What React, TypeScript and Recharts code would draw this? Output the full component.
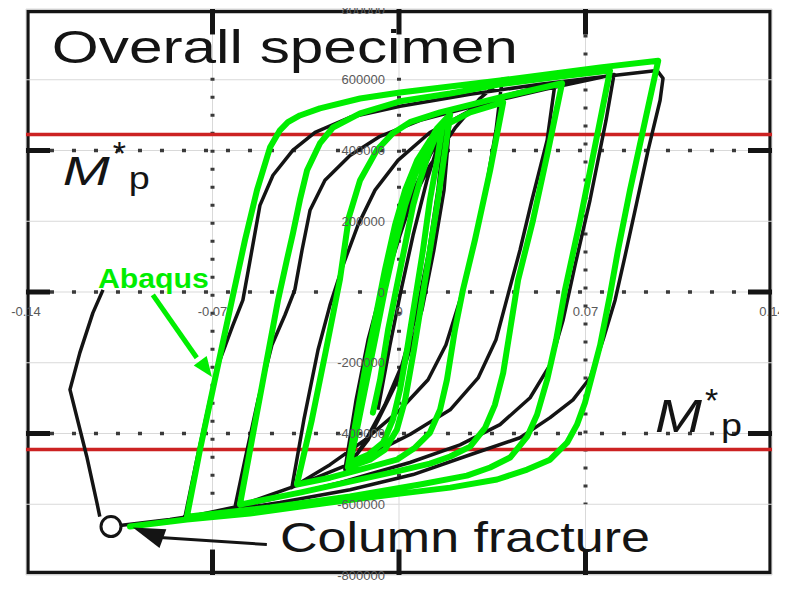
import React from 'react'
import { LineChart, Line, XAxis, YAxis, ReferenceLine, ReferenceDot, ReferenceArea } from 'recharts'

// axis ticks (Excel overlay)
const xTicks = [-0.14, -0.07, 0, 0.07, 0.14]
const xTickLabels = ['-0.14', '-0.07', '0', '0.07', '0.14']
const yTicks = [-800000, -600000, -400000, -200000, 0, 200000, 400000, 600000, 800000]

// scanned figure: M*p levels and its own dotted grid
const mpLevels = [445000, -445000]
const scanGridX = [-0.07, 0, 0.07]
const scanGridY = [-400000, 0, 400000]

// Abaqus result (green), one continuous path: small cycles first, then growing loops
const abaqusPath = [
  [-0.0098, -341000], [-0.0071, -248000], [-0.0041, -107000], [-0.0011, 6000], [0.0023, 133000], [0.0053, 245000], [0.0079, 316000], [0.0109, 386000], [0.0143, 449000], [0.0165, 480000],
  [0.0143, 372000], [0.0116, 260000], [0.009, 118000], [0.006, -23000], [0.003, -164000], [0.0004, -276000], [-0.0023, -361000], [-0.006, -426000], [-0.0116, -460000], [-0.0184, -482000],
  [-0.0158, -389000], [-0.0128, -276000], [-0.009, -135000], [-0.0053, 6000], [-0.0015, 133000], [0.0023, 245000], [0.006, 330000], [0.0098, 401000], [0.0143, 463000], [0.0192, 502000],
  [0.0173, 401000], [0.0146, 260000], [0.0116, 118000], [0.0086, -23000], [0.0056, -164000], [0.0023, -305000], [-0.0008, -389000], [-0.0053, -446000], [-0.0109, -474000], [-0.0192, -496000],
  [-0.0161, -361000], [-0.0128, -220000], [-0.009, -79000], [-0.0053, 62000], [-0.0015, 189000], [0.0023, 288000], [0.0068, 372000], [0.0116, 429000], [0.0173, 471000], [0.0267, 508000], [0.0391, 536000],
  [0.0342, 344000], [0.0285, 147000], [0.024, 6000], [0.021, -107000], [0.018, -248000], [0.0154, -333000], [0.0116, -398000], [0.006, -440000], [-0.0008, -474000], [-0.0146, -502000], [-0.0259, -525000], [-0.0383, -544000],
  [-0.0327, -361000], [-0.0274, -164000], [-0.0222, 34000], [-0.0188, 212000], [-0.0146, 316000], [-0.0083, 401000], [-0.0023, 449000], [0.0041, 480000], [0.0154, 508000], [0.0379, 550000], [0.0612, 590000],
  [0.056, 401000], [0.0503, 203000], [0.0447, 34000], [0.0417, -107000], [0.0391, -229000], [0.036, -319000], [0.0323, -384000], [0.0267, -437000], [0.0192, -465000], [0.0116, -485000], [0.0004, -505000], [-0.0184, -536000], [-0.0372, -567000], [-0.0597, -601000],
  [-0.0552, -418000], [-0.0503, -220000], [-0.0454, -23000], [-0.0421, 90000], [-0.0398, 166000], [-0.0372, 260000], [-0.0345, 344000], [-0.0297, 420000], [-0.0248, 465000], [-0.0146, 505000], [0.0004, 539000], [0.0192, 561000], [0.0379, 587000], [0.0605, 609000], [0.0792, 626000],
  [0.074, 429000], [0.068, 203000], [0.0623, 6000], [0.059, -135000], [0.0556, -248000], [0.0518, -347000], [0.0481, -409000], [0.0417, -468000], [0.0342, -496000], [0.0255, -519000], [0.0079, -544000], [-0.0184, -578000], [-0.0484, -609000], [-0.0796, -635000],
  [-0.0747, -446000], [-0.0691, -248000], [-0.0627, -23000], [-0.0578, 147000], [-0.0533, 288000], [-0.0484, 409000], [-0.0447, 457000], [-0.0417, 480000], [-0.0372, 499000], [-0.0297, 519000], [-0.0146, 547000], [0.0004, 564000], [0.0379, 598000], [0.0755, 635000], [0.0973, 654000],
  [0.0924, 485000], [0.0867, 288000], [0.0822, 118000], [0.0792, -8000], [0.0755, -150000], [0.0698, -313000], [0.0668, -375000], [0.0631, -426000], [0.0567, -474000], [0.0481, -502000], [0.0368, -530000], [0.0192, -553000], [0.0004, -570000], [-0.0259, -595000], [-0.056, -626000], [-0.0796, -643000], [-0.101, -663000],
]

// test curve from the scanned figure (black)
const testPath = [
  [-0.0079, -333000], [-0.0034, -150000], [0.0008, 6000], [0.0053, 161000], [0.0105, 316000], [0.0173, 480000],
  [0.0146, 288000], [0.0109, 104000], [0.0064, -65000], [0.0011, -206000], [-0.0053, -319000], [-0.0124, -418000], [-0.0176, -480000],
  [-0.0139, -305000], [-0.0098, -135000], [-0.0049, 34000], [0.0004, 161000], [0.0056, 288000], [0.0116, 386000], [0.0192, 491000],
  [0.0169, 288000], [0.0131, 118000], [0.0086, -51000], [0.0023, -206000], [-0.0041, -305000], [-0.0116, -418000], [-0.0203, -502000],
  [-0.0161, -305000], [-0.0116, -135000], [-0.0071, -8000], [-0.0015, 118000], [0.0041, 245000], [0.0116, 358000], [0.021, 463000], [0.0304, 547000], [0.0387, 601000],
  [0.0364, 457000], [0.0319, 260000], [0.0274, 118000], [0.0229, -23000], [0.0176, -150000], [0.0109, -248000], [0.0004, -333000], [-0.0128, -418000], [-0.0259, -488000], [-0.0402, -553000],
  [-0.0357, -361000], [-0.0304, -164000], [-0.0259, -37000], [-0.021, 76000], [-0.0154, 189000], [-0.009, 288000], [-0.0004, 372000], [0.0116, 451000], [0.0267, 513000], [0.0417, 559000], [0.0586, 592000],
  [0.0556, 429000], [0.0499, 260000], [0.0454, 118000], [0.0409, -8000], [0.0364, -135000], [0.0297, -243000], [0.0192, -333000], [0.0041, -403000], [-0.0146, -474000], [-0.0372, -544000], [-0.0616, -609000],
  [-0.0578, -474000], [-0.0529, -305000], [-0.0477, -150000], [-0.0428, -65000], [-0.0391, 6000], [-0.0364, 118000], [-0.0334, 231000], [-0.0278, 316000], [-0.0184, 386000], [-0.0071, 440000], [0.0079, 485000], [0.0304, 530000], [0.0548, 573000], [0.0807, 615000],
  [0.0777, 485000], [0.0717, 260000], [0.0661, 76000], [0.0616, -79000], [0.0567, -206000], [0.0492, -299000], [0.0379, -375000], [0.0229, -432000], [0.0041, -482000], [-0.0222, -539000], [-0.0484, -587000], [-0.0804, -638000],
  [-0.0759, -474000], [-0.071, -305000], [-0.0672, -192000], [-0.0623, -93000], [-0.0586, -23000], [-0.056, 85000], [-0.0522, 245000], [-0.0473, 330000], [-0.0398, 401000], [-0.0315, 451000], [-0.0184, 494000], [0.0004, 525000], [0.0267, 559000], [0.0529, 587000], [0.0804, 612000], [0.0969, 626000],
  [0.0991, 604000], [0.098, 542000], [0.0935, 401000], [0.0886, 231000], [0.0845, 90000], [0.0811, -23000], [0.0766, -135000], [0.0717, -243000], [0.0653, -305000], [0.0567, -355000], [0.0454, -412000], [0.0267, -460000], [0.0053, -516000], [-0.0184, -559000], [-0.0447, -595000], [-0.0672, -621000], [-0.086, -643000], [-0.1048, -660000],
]

const fracturePoint = [-0.1081, -663000]
const fractureBranch = [
  [-0.1123, -635000], [-0.1134, -595000], [-0.1172, -465000], [-0.1235, -276000], [-0.1198, -172000], [-0.1149, -59000], [-0.1111, 6000],
]

const abaqusArrow = [[-0.0924, -8000], [-0.0759, -186000]]
const abaqusArrowTip = [-0.0702, -240000]
const fractureArrow = [[-0.0496, -714000], [-0.0897, -694000]]
const fractureArrowTip = [-0.0999, -666000]

const toPoints = (pairs: number[][]) => pairs.map(([x, y]) => ({ x, y }))

const font = '"Liberation Sans", Arial, sans-serif'
const GREEN = '#00ee00'
const INK = '#141414'
const GRID = '#d9d9d9'

const arrowHead = (angle: number, length: number, half: number, color: string) => (p: any) => (
  <polygon
    points={`${p.cx},${p.cy} ${p.cx - length},${p.cy - half} ${p.cx - length},${p.cy + half}`}
    fill={color}
    transform={`rotate(${angle} ${p.cx} ${p.cy})`}
  />
)

const mpMark = (mSize: number) => (p: any) => (
  <g fontFamily={font} fill={INK}>
    <text x={p.cx} y={p.cy} fontSize={mSize} fontStyle="italic" textLength={47} lengthAdjust="spacingAndGlyphs">M</text>
    <text x={p.cx + 50} y={p.cy - 20} fontSize={34}>*</text>
    <text x={p.cx + 66} y={p.cy + 4} fontSize={31} textLength={21} lengthAdjust="spacingAndGlyphs">p</text>
  </g>
)

export default function App() {
  return (
    <div style={{ margin: -8 }}>
      <LineChart width={787} height={591} margin={{ top: 9, right: 15, bottom: 16, left: 26 }} style={{ overflow: 'visible' }}>
        <XAxis type="number" dataKey="x" domain={[-0.14, 0.14]} ticks={xTicks} hide />
        <YAxis type="number" dataKey="y" domain={[-800000, 800000]} ticks={yTicks} hide />

        {xTicks.map((t) => (
          <ReferenceLine key={`gx${t}`} x={t} stroke={GRID} strokeWidth={1} ifOverflow="visible" />
        ))}
        {yTicks.map((t) => (
          <ReferenceLine key={`gy${t}`} y={t} stroke={GRID} strokeWidth={1} ifOverflow="visible" />
        ))}

        {/* scanned figure */}
        <ReferenceArea x1={-0.1393} x2={0.1393} y1={-793000} y2={793000} fill="none" stroke={INK} strokeWidth={3.5} ifOverflow="visible" />
        {scanGridY.map((t) => (
          <ReferenceLine key={`dy${t}`} segment={[{ x: -0.131, y: t }, { x: 0.131, y: t }]} stroke="#3a3a3a" strokeWidth={3.5} strokeDasharray="4 18" ifOverflow="visible" />
        ))}
        {scanGridX.map((t) => (
          <ReferenceLine key={`dx${t}`} segment={[{ x: t, y: t === 0.07 ? 728000 : 606000 }, { x: t, y: -600000 }]} stroke="#3a3a3a" strokeWidth={4} strokeDasharray="3 15" ifOverflow="visible" />
        ))}
        {scanGridY.map((t) => (
          <ReferenceLine key={`tl${t}`} segment={[{ x: -0.14, y: t }, { x: -0.131, y: t }]} stroke={INK} strokeWidth={5} ifOverflow="visible" />
        ))}
        {scanGridY.map((t) => (
          <ReferenceLine key={`tr${t}`} segment={[{ x: 0.131, y: t }, { x: 0.14, y: t }]} stroke={INK} strokeWidth={5} ifOverflow="visible" />
        ))}
        {scanGridX.map((t) => (
          <ReferenceLine key={`tt${t}`} segment={[{ x: t, y: 800000 }, { x: t, y: 728000 }]} stroke={INK} strokeWidth={5} ifOverflow="visible" />
        ))}
        {scanGridX.map((t) => (
          <ReferenceLine key={`tb${t}`} segment={[{ x: t, y: -800000 }, { x: t, y: -728000 }]} stroke={INK} strokeWidth={5} ifOverflow="visible" />
        ))}
        {mpLevels.map((t) => (
          <ReferenceLine key={`mp${t}`} y={t} stroke="#cc2222" strokeWidth={3.5} ifOverflow="visible" />
        ))}

        <ReferenceDot x={-0.1303} y={646000} ifOverflow="visible" shape={(p: any) => (
          <text x={p.cx} y={p.cy} fontSize={46} fontFamily={font} fill={INK} textLength={466} lengthAdjust="spacingAndGlyphs">Overall specimen</text>
        )} />
        <ReferenceDot x={-0.1262} y={302000} ifOverflow="visible" shape={mpMark(40)} />
        <ReferenceDot x={0.0961} y={-395000} ifOverflow="visible" shape={mpMark(46)} />
        <ReferenceDot x={-0.0447} y={-736000} ifOverflow="visible" shape={(p: any) => (
          <text x={p.cx} y={p.cy} fontSize={42} fontFamily={font} fill={INK} textLength={370} lengthAdjust="spacingAndGlyphs">Column fracture</text>
        )} />

        <Line data={toPoints(testPath)} dataKey="y" type="linear" stroke={INK} strokeWidth={3.5} strokeLinejoin="round" dot={false} isAnimationActive={false} />
        <Line data={toPoints(fractureBranch)} dataKey="y" type="linear" stroke={INK} strokeWidth={3.5} strokeLinejoin="round" dot={false} isAnimationActive={false} />
        <Line data={toPoints(fractureArrow)} dataKey="y" type="linear" stroke={INK} strokeWidth={3} dot={false} isAnimationActive={false} />
        <ReferenceDot x={fractureArrowTip[0]} y={fractureArrowTip[1]} ifOverflow="visible" shape={arrowHead(200, 32, 10, INK)} />
        <ReferenceDot x={fracturePoint[0]} y={fracturePoint[1]} r={10} fill="#fff" stroke={INK} strokeWidth={3} ifOverflow="visible" />

        {/* Abaqus overlay */}
        <Line data={toPoints(abaqusPath)} dataKey="y" type="linear" stroke={GREEN} strokeWidth={6} strokeLinejoin="round" strokeLinecap="round" dot={false} isAnimationActive={false} />
        <Line data={toPoints(abaqusArrow)} dataKey="y" type="linear" stroke={GREEN} strokeWidth={5} dot={false} isAnimationActive={false} />
        <ReferenceDot x={abaqusArrowTip[0]} y={abaqusArrowTip[1]} ifOverflow="visible" shape={arrowHead(54, 20, 8, GREEN)} />
        <ReferenceDot x={-0.113} y={11000} ifOverflow="visible" shape={(p: any) => (
          <text x={p.cx} y={p.cy} fontSize={28} fontWeight="bold" fontFamily={font} fill={GREEN} textLength={111} lengthAdjust="spacingAndGlyphs">Abaqus</text>
        )} />

        {/* axis tick labels */}
        {yTicks.map((t) => (
          <ReferenceDot key={`ly${t}`} x={0} y={t} ifOverflow="visible" shape={(p: any) => (
            <text x={p.cx - 14} y={p.cy + 4.5} textAnchor="end" fontSize={13} fontFamily={font} fill="#595959">{String(t)}</text>
          )} />
        ))}
        {xTicks.map((t, i) => (
          <ReferenceDot key={`lx${t}`} x={t} y={0} ifOverflow="visible" shape={(p: any) => (
            <text x={p.cx} y={p.cy + 24} textAnchor="middle" fontSize={13} fontFamily={font} fill="#595959">{xTickLabels[i]}</text>
          )} />
        ))}
      </LineChart>
    </div>
  )
}
